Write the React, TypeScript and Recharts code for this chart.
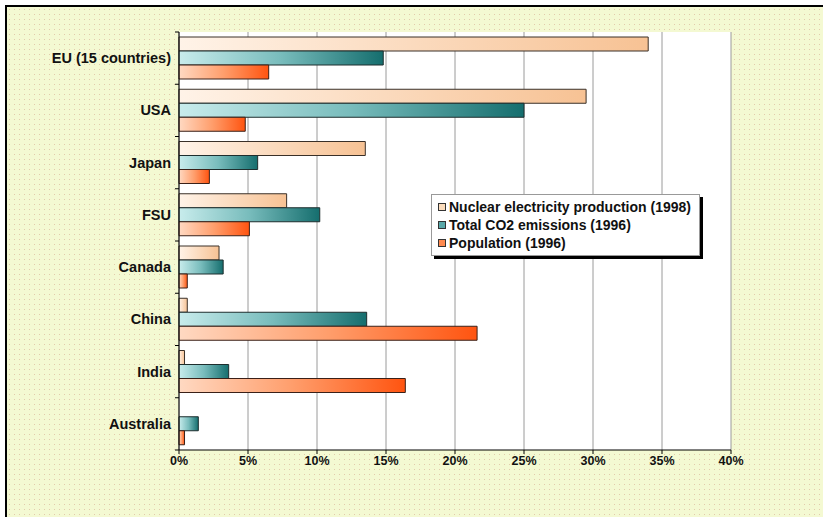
import React from "react";
import {
  BarChart,
  Bar,
  XAxis,
  YAxis,
  CartesianGrid,
  Legend
} from "recharts";

const categories = [
  "EU (15 countries)",
  "USA",
  "Japan",
  "FSU",
  "Canada",
  "China",
  "India",
  "Australia"
];
const nuclear = [34.0, 29.5, 13.5, 7.8, 2.9, 0.6, 0.4, 0];
const co2 = [14.8, 25.0, 5.7, 10.2, 3.2, 13.6, 3.6, 1.4];
const population = [6.5, 4.8, 2.2, 5.1, 0.6, 21.6, 16.4, 0.4];
const xTicks = [0, 5, 10, 15, 20, 25, 30, 35, 40];

const seriesNames = [
  "Nuclear electricity production (1998)",
  "Total CO2 emissions (1996)",
  "Population (1996)"
];
const swatches = ["#fbdcbc", "#5aa8a8", "#ff8a50"];

const data = categories.map((name, i) => ({
  name,
  nuclear: nuclear[i],
  co2: co2[i],
  population: population[i]
}));

const FONT = "Arial, 'Liberation Sans', sans-serif";
const W = 816;
const H = 510;
const MARGIN = { top: 25, right: 92, bottom: 37, left: 0 };
const X_AXIS_H = 30;
const BAND = (H - MARGIN.top - MARGIN.bottom - X_AXIS_H) / categories.length;

// category labels + little tick marks on the band boundaries
const CategoryTick = (props: any) => {
  const { x, y, payload, index } = props;
  const axisX = x + 8;
  const isLast = index === categories.length - 1;
  return (
    <g>
      <line x1={axisX - 4} x2={axisX} y1={y - BAND / 2} y2={y - BAND / 2} stroke="#000" />
      {isLast && (
        <line x1={axisX - 4} x2={axisX} y1={y + BAND / 2} y2={y + BAND / 2} stroke="#000" />
      )}
      <text
        x={x}
        y={y}
        dy={5}
        textAnchor="end"
        fontFamily={FONT}
        fontWeight="bold"
        fontSize={14.5}
        fill="#111"
      >
        {payload.value}
      </text>
    </g>
  );
};

const LegendBox = () => (
  <div
    style={{
      background: "#fff",
      border: "1px solid #999",
      boxShadow: "3px 3px 0 #000",
      padding: "3px 8px 3px 6px",
      fontFamily: FONT,
      fontWeight: "bold",
      fontSize: 14,
      color: "#111",
      lineHeight: "18px",
      whiteSpace: "nowrap"
    }}
  >
    {seriesNames.map((n, i) => (
      <div key={n} style={{ display: "flex", alignItems: "center" }}>
        <span
          style={{
            display: "inline-block",
            width: 6,
            height: 6,
            border: "1px solid #333",
            background: swatches[i],
            marginRight: 3
          }}
        />
        {n}
      </div>
    ))}
  </div>
);

export default function App() {
  return (
    <div
      style={{
        position: "fixed",
        left: 5,
        top: 5,
        width: 818,
        height: 512,
        boxSizing: "border-box",
        borderTop: "2px solid #000",
        borderLeft: "2px solid #000",
        backgroundColor: "#f4f9d2",
        backgroundImage: "radial-gradient(#e2cbac 0.8px, transparent 1px)",
        backgroundSize: "5px 5px"
      }}
    >
      <BarChart
        width={W}
        height={H}
        data={data}
        layout="vertical"
        margin={MARGIN}
        barCategoryGap={5}
        barGap={0}
      >
        <defs>
          <linearGradient id="gNuc" x1="0" y1="0" x2="1" y2="0">
            <stop offset="0%" stopColor="#fff3e8" />
            <stop offset="100%" stopColor="#f7c294" />
          </linearGradient>
          <linearGradient id="gCo2" x1="0" y1="0" x2="1" y2="0">
            <stop offset="0%" stopColor="#c8ecec" />
            <stop offset="50%" stopColor="#78bcbc" />
            <stop offset="100%" stopColor="#156e6e" />
          </linearGradient>
          <linearGradient id="gPop" x1="0" y1="0" x2="1" y2="0">
            <stop offset="0%" stopColor="#ffd9c2" />
            <stop offset="50%" stopColor="#ff9e6c" />
            <stop offset="100%" stopColor="#ff5410" />
          </linearGradient>
        </defs>
        <CartesianGrid horizontal={false} stroke="#9a9a9a" fill="#fff" />
        <XAxis
          type="number"
          domain={[0, 40]}
          ticks={xTicks}
          interval={0}
          height={X_AXIS_H}
          tickFormatter={(v) => `${v}%`}
          axisLine={{ stroke: "#000" }}
          tickLine={{ stroke: "#000" }}
          tickSize={4}
          tick={{ fontFamily: FONT, fontWeight: "bold", fontSize: 12.5, fill: "#111" }}
        />
        <XAxis
          xAxisId="top"
          orientation="top"
          type="number"
          domain={[0, 40]}
          height={0}
          tick={false}
          tickLine={false}
          axisLine={{ stroke: "#9a9a9a" }}
        />
        <YAxis
          type="category"
          dataKey="name"
          width={172}
          interval={0}
          axisLine={{ stroke: "#000" }}
          tickLine={false}
          tick={<CategoryTick />}
        />
        <Legend
          layout="horizontal"
          verticalAlign="middle"
          align="center"
          content={<LegendBox />}
          wrapperStyle={{ left: 424, top: 187, width: "auto" }}
        />
        <Bar dataKey="nuclear" name={seriesNames[0]} fill="url(#gNuc)" stroke="#3a3028" strokeWidth={1} isAnimationActive={false} />
        <Bar dataKey="co2" name={seriesNames[1]} fill="url(#gCo2)" stroke="#1e2e2e" strokeWidth={1} isAnimationActive={false} />
        <Bar dataKey="population" name={seriesNames[2]} fill="url(#gPop)" stroke="#3a2018" strokeWidth={1} isAnimationActive={false} />
      </BarChart>
    </div>
  );
}
